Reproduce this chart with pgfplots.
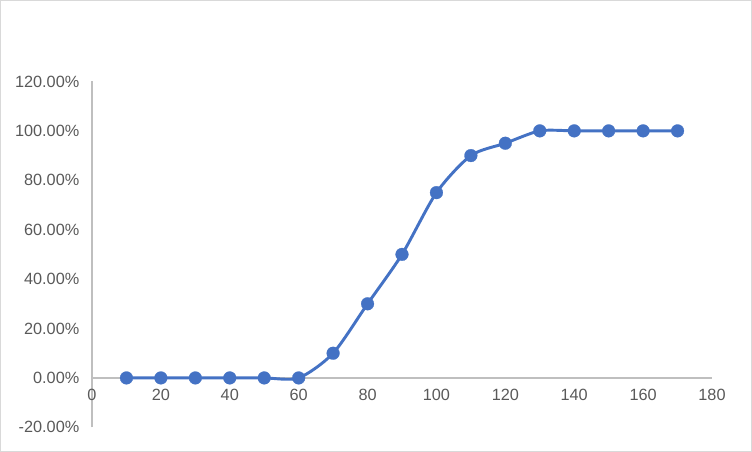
\documentclass[border=0pt]{standalone}
\usepackage{pgfplots}
\pgfplotsset{compat=1.18}
\usepackage{fontspec}
\setmainfont{Liberation Sans}
\definecolor{excelblue}{HTML}{4472C4}
\definecolor{axgray}{HTML}{BFBFBF}
\definecolor{txtgray}{HTML}{595959}
\definecolor{framegray}{HTML}{D9D9D9}
\begin{document}
\begin{tikzpicture}
  % whole picture: 752x452 px at 0.75pt per px
  \useasboundingbox (-69pt,-18.5pt) rectangle (495pt,320.5pt);
  \draw[framegray, line width=1pt] (-68.6pt,-18.1pt) rectangle (494.6pt,320.1pt);
  \begin{axis}[
    at={(0,0)}, anchor=south west,
    scale only axis,
    width=465pt, height=259.4pt,
    xmin=0, xmax=180, ymin=-20, ymax=120,
    axis x line*=middle,
    axis y line*=left,
    hide obscured x ticks=false,
    axis line style={draw=axgray, line width=0.9pt},
    xtick={0,20,...,180},
    ytick={-20,0,20,40,60,80,100,120},
    yticklabels={-20.00\%,0.00\%,20.00\%,40.00\%,60.00\%,80.00\%,100.00\%,120.00\%},
    major tick length=0pt,
    tick label style={font=\fontsize{12.2}{14}\selectfont, text=txtgray},
    /pgf/number format/assume math mode=true,
    xticklabel style={anchor=north, yshift=-5pt},
    yticklabel style={anchor=east, xshift=-6pt},
    clip=false,
  ]
    \addplot[excelblue, line width=2.2pt, smooth, tension=0.45,
      mark=*, mark size=4.8pt, mark options={solid, fill=excelblue, draw=excelblue, line width=0.2pt}]
      coordinates {
        (10,0) (20,0) (30,0) (40,0) (50,0) (60,0)
        (70,10) (80,30) (90,50) (100,75) (110,90) (120,95)
        (130,100) (140,100) (150,100) (160,100) (170,100)
      };
  \end{axis}
\end{tikzpicture}
\end{document}
